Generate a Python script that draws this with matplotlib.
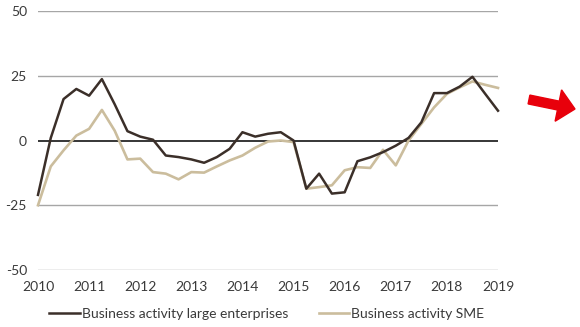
import matplotlib
matplotlib.use("Agg")
import matplotlib.pyplot as plt
from matplotlib.patches import FancyArrow
from matplotlib.transforms import IdentityTransform
import numpy as np

plt.rcParams['font.family'] = ['Lato', 'DejaVu Sans']

# quarterly observations, 2010 Q1 ... 2019 Q1
large = [-21, 1, 16, 19.9, 17.3, 23.7, 14, 3.6, 1.5, 0.3,
         -5.8, -6.4, -7.3, -8.6, -6.4, -3.2, 3.2, 1.5, 2.6, 3.2,
         0, -18.6, -12.8, -20.5, -20, -8, -6.5, -4.5, -2, 1,
         7, 18.3, 18.3, 20.8, 24.6, 18, 11.5]
sme = [-25, -10, -3.8, 1.9, 4.5, 11.8, 3.8, -7.3, -7, -12.2,
       -12.8, -15, -12.2, -12.4, -10, -7.7, -5.8, -2.8, -0.4, 0,
       -0.6, -18.6, -18, -17.3, -11.5, -10.3, -10.6, -3.6, -9.6, 0,
       6.4, 12.8, 18, 20.5, 22.8, 21.5, 20.3]
start_year = 2010
years = [2010, 2011, 2012, 2013, 2014, 2015, 2016, 2017, 2018, 2019]
yticks = [-50, -25, 0, 25, 50]
labels = ["Business activity large enterprises", "Business activity SME"]

x = start_year + np.arange(len(large)) / 4.0

fig = plt.figure(figsize=(5.8, 3.27), dpi=100)
ax = fig.add_axes([38/580, 1-270/327, 460/580, 259/327])

for yv in yticks:
    if yv == 0:
        ax.axhline(yv, color='black', lw=1.1, zorder=1)
    else:
        ax.axhline(yv, color='#a6a6a6', lw=1.0, zorder=1)

ax.plot(x, large, color='#3b2f29', lw=1.8, label=labels[0], zorder=3, clip_on=False)
ax.plot(x, sme, color='#cbbd9d', lw=1.9, label=labels[1], zorder=2, clip_on=False)

ax.set_xlim(2010, 2019)
ax.set_ylim(-50, 50)
ax.set_xticks(years)
ax.set_xticklabels([str(y) for y in years])
ax.set_yticks(yticks)
ax.set_yticklabels([str(v) for v in yticks])
ax.tick_params(axis='both', length=0, labelsize=10, labelcolor='#3a3a3a')
ax.tick_params(axis='x', pad=8)
ax.tick_params(axis='y', pad=8)
for s in ax.spines.values():
    s.set_visible(False)

leg = fig.legend(loc='center', bbox_to_anchor=(0.46, 1-314/327), ncol=2,
                 frameon=False, fontsize=10, handlelength=2.2, handletextpad=0.15,
                 columnspacing=2.2, labelcolor='#3a3a3a')

# red arrow drawn in pixel coordinates (origin bottom-left)
arrow = FancyArrow(529, 327-99.5, 46, -9.5, width=9,
                   head_width=32, head_length=17,
                   length_includes_head=True, color='#e8000b',
                   transform=IdentityTransform(), figure=fig)
fig.patches.append(arrow)

fig.savefig('out.png', dpi=100)
